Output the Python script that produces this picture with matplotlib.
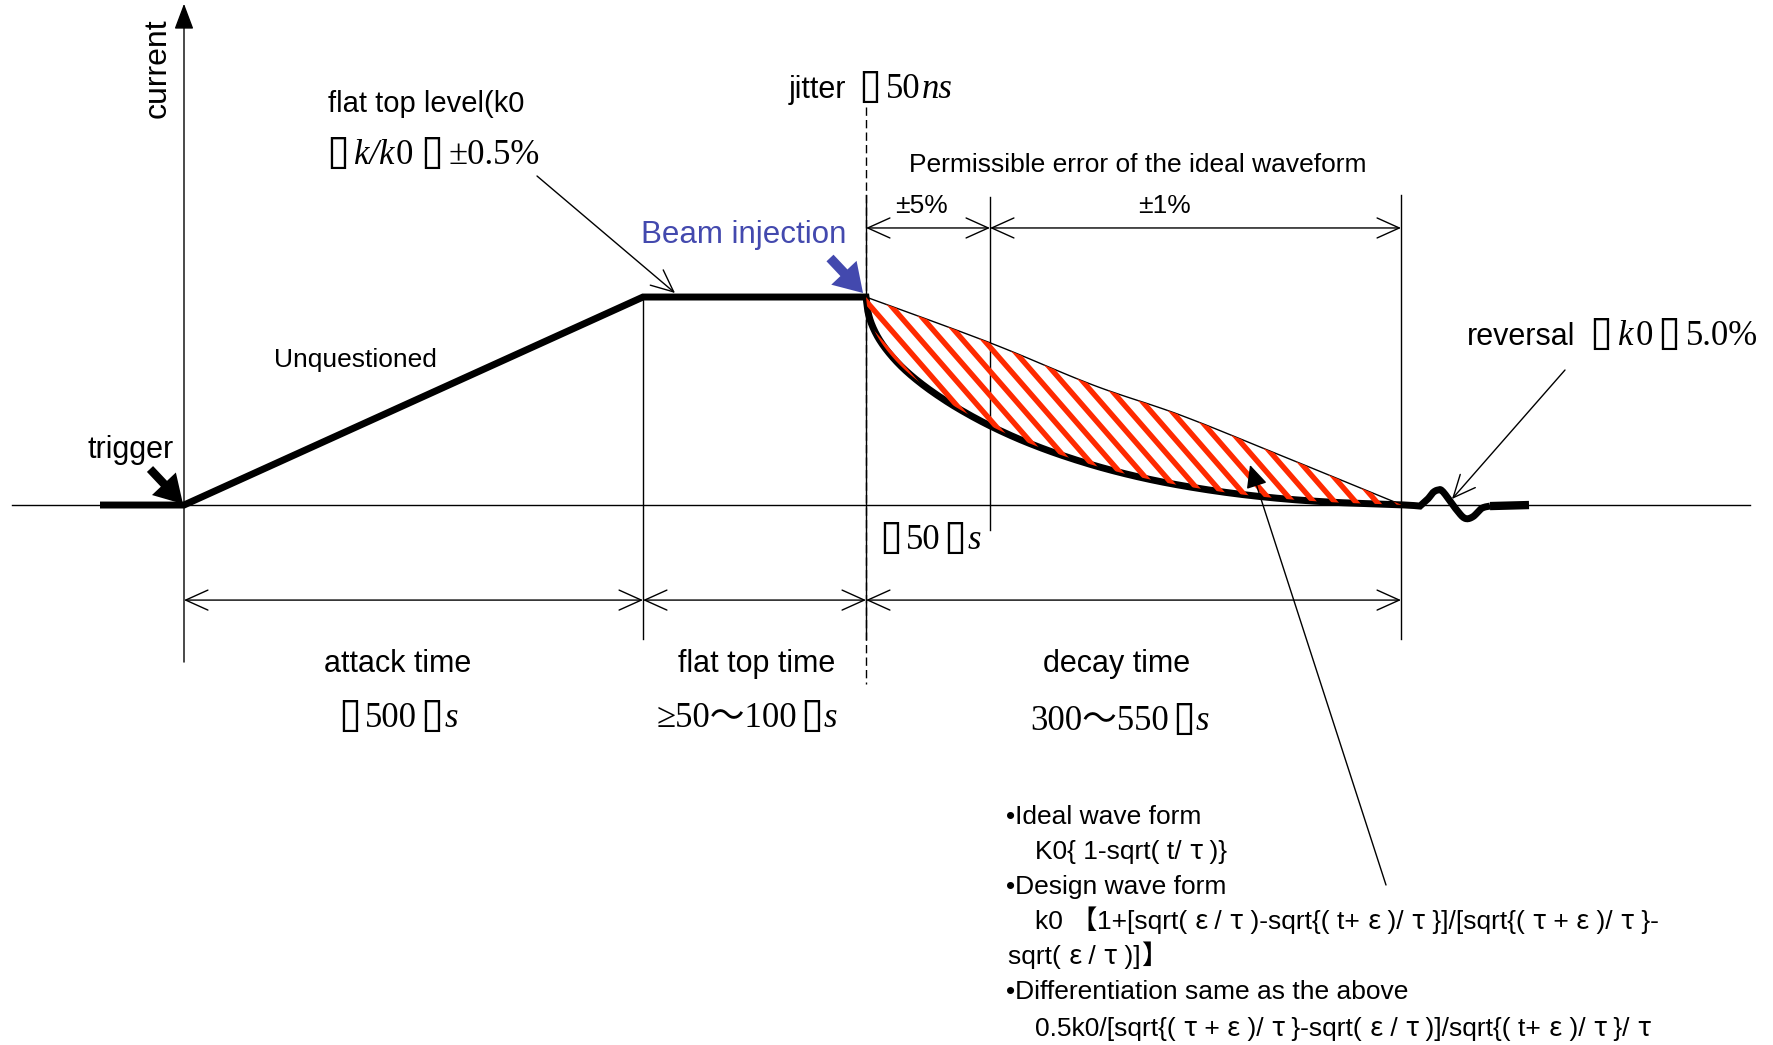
import matplotlib
matplotlib.use("Agg")
import matplotlib.pyplot as plt
import numpy as np
from matplotlib.patches import FancyArrowPatch

# ---------------- data (time in diagram units, current in units of k0) -------------
ramp_t = [-0.84, 0.0, 4.59, 6.82]
ramp_c = [0.0, 0.0, 1.0, 1.0]
decay_t = [6.82, 6.84, 6.88, 6.95, 7.05, 7.18, 7.34, 7.53, 7.76, 8.06, 8.41, 8.81,
           9.26, 9.76, 10.31, 10.86, 11.46, 12.17, 12.36]
decay_c = [1.0, 0.928, 0.865, 0.798, 0.731, 0.663, 0.596, 0.529, 0.459, 0.381, 0.305, 0.234,
           0.169, 0.113, 0.068, 0.036, 0.014, 0.001, -0.005]
ideal_t = [6.82, 8.06, 9.09, 9.96, 10.96, 12.18]
ideal_c = [1.0, 0.78, 0.577, 0.433, 0.24, 0.0]
reversal_t = [12.36, 12.44, 12.49, 12.54, 12.59, 12.727, 12.81, 12.89, 12.977, 13.06]
reversal_c = [-0.005, 0.03, 0.06, 0.072, 0.064, -0.024, -0.064, -0.056, -0.016, -0.005]
tail_t = [13.06, 13.45]
tail_c = [-0.005, 0.0]
# event times: trigger, flat-top start, beam injection, tolerance switch, decay end
t_trig, t_flat0, t_inj, t_switch, t_end = 0.0, 4.59, 6.82, 8.06, 12.17

period_labels = ["attack time", "flat top time", "decay time"]
text_block = ["\u2022Ideal wave form",
              "K0{ 1-sqrt( t/ \u03c4 )}",
              "\u2022Design wave form",
              "k0 \u30101+[sqrt( \u03b5 / \u03c4 )-sqrt{( t+ \u03b5 )/ \u03c4 }]/[sqrt{( \u03c4 + \u03b5 )/ \u03c4 }-",
              "sqrt( \u03b5 / \u03c4 )]\u3011",
              "\u2022Differentiation same as the above",
              "0.5k0/[sqrt{( \u03c4 + \u03b5 )/ \u03c4 }-sqrt( \u03b5 / \u03c4 )]/sqrt{( t+ \u03b5 )/ \u03c4 }/ \u03c4"]

# ---------------- figure ----------------
W, H = 1774, 1045
fig = plt.figure(figsize=(W / 100, H / 100), dpi=100)
ax = fig.add_axes([0, 0, 1, 1])
ax.set_xlim(-1.84, 15.90)
ax.set_ylim(-2.596, 2.428)
ax.axis("off")
axp = fig.add_axes([0, 0, 1, 1])
axp.set_xlim(0, W)
axp.set_ylim(H, 0)
axp.axis("off")

SANS = ["Liberation Sans", "Noto Sans CJK JP", "DejaVu Sans"]
SERIF = ["Liberation Serif", "Noto Sans CJK JP", "DejaVu Sans"]
CJK = ["Noto Sans CJK JP", "DejaVu Sans"]
BOX = ["DejaVu Sans"]
THIN = 1.0
THICK = 5.0
RED = "#ff2a00"
BLUE = "#4349ae"


def smooth(xs, ys, n=16):
    """Catmull-Rom curve through the read points."""
    P = np.column_stack([xs, ys]).astype(float)
    P = np.vstack([P[0], P, P[-1]])
    out = []
    tt = np.linspace(0, 1, n, endpoint=False)[:, None]
    for i in range(1, len(P) - 2):
        p0, p1, p2, p3 = P[i - 1], P[i], P[i + 1], P[i + 2]
        seg = 0.5 * (2 * p1 + (-p0 + p2) * tt + (2 * p0 - 5 * p1 + 4 * p2 - p3) * tt ** 2
                     + (-p0 + 3 * p1 - 3 * p2 + p3) * tt ** 3)
        out.append(seg)
    out.append(P[-2][None, :])
    out = np.vstack(out)
    return out[:, 0], out[:, 1]


# axes lines
ax.plot([-1.72, 15.66], [0, 0], color="k", lw=THIN, zorder=2)
ax.add_patch(FancyArrowPatch((t_trig, -0.755), (t_trig, 2.41),
                             arrowstyle="-|>,head_length=0.8,head_width=0.3",
                             mutation_scale=20, lw=THIN, color="k",
                             shrinkA=0, shrinkB=0, zorder=2))


def vline(t, c0, c1, **kw):
    ax.plot([t, t], [c0, c1], color="k", lw=THIN, zorder=2, **kw)


vline(t_flat0, 1.0, -0.644)
vline(t_inj, 1.49, -0.644)
vline(t_inj, 1.913, -0.861, dashes=(6, 3))
vline(t_switch, 1.48, -0.12)
vline(t_end, 1.49, -0.644)


def dim(t0, t1, c):
    ax.add_patch(FancyArrowPatch((t0, c), (t1, c),
                                 arrowstyle="<->,head_length=0.8,head_width=0.36",
                                 mutation_scale=20, lw=THIN, color="k",
                                 shrinkA=0, shrinkB=0, zorder=2))


dim_low, dim_high = -0.457, 1.332
dim(t_trig, t_flat0, dim_low)
dim(t_flat0, t_inj, dim_low)
dim(t_inj, t_end, dim_low)
dim(t_inj, t_switch, dim_high)
dim(t_switch, t_end, dim_high)

# smoothed curves
dt_s, dc_s = smooth(decay_t, decay_c)
it_s, ic_s = smooth(ideal_t, ideal_c)
rt_s, rc_s = smooth(reversal_t, reversal_c, n=10)

# hatched tolerance region
tg = np.linspace(t_inj, t_end, 500)
lower = np.interp(tg, dt_s, dc_s)
upper = np.interp(tg, it_s, ic_s)
poly = ax.fill_between(tg, lower, upper, facecolor="white", lw=0, zorder=1)
clip_path = poly.get_paths()[0]
slope = 1.15
for x0 in np.arange(866 - 300, 1420, 21.0):
    ln, = axp.plot([x0, x0 + 260 / slope], [270, 530], color=RED, lw=3.9,
                   solid_capstyle="butt", zorder=1.5)
    ln.set_clip_path(clip_path, ax.transData)

ax.plot(it_s, ic_s, color="k", lw=THIN, zorder=3)

# waveform
wave_t = np.concatenate([ramp_t, dt_s[1:], rt_s[1:]])
wave_c = np.concatenate([ramp_c, dc_s[1:], rc_s[1:]])
ax.plot(wave_t, wave_c, color="k", lw=THICK, solid_joinstyle="miter",
        solid_capstyle="butt", zorder=4)
ax.plot(tail_t, tail_c, color="k", lw=THICK + 1, solid_capstyle="butt", zorder=4)

# ---------------- annotation arrows (pixel overlay) ----------------
def open_arrow(p0, p1):
    axp.add_patch(FancyArrowPatch(p0, p1, arrowstyle="->,head_length=0.8,head_width=0.36",
                                  mutation_scale=20, lw=THIN, color="k",
                                  shrinkA=0, shrinkB=0, zorder=5))


open_arrow((537, 176), (675, 293))
open_arrow((1565, 370), (1452, 499))
axp.add_patch(FancyArrowPatch((1386, 885), (1250, 465),
                              arrowstyle="-|>,head_length=0.7,head_width=0.33",
                              mutation_scale=20, lw=THIN, color="k",
                              shrinkA=0, shrinkB=0, zorder=5))
axp.add_patch(FancyArrowPatch((150, 469), (183, 504),
                              arrowstyle="simple,head_length=0.72,head_width=0.85,tail_width=0.22",
                              mutation_scale=27.8, lw=0, color="k",
                              shrinkA=0, shrinkB=0, zorder=5))
axp.add_patch(FancyArrowPatch((830, 258), (863, 293),
                              arrowstyle="simple,head_length=0.72,head_width=0.9,tail_width=0.25",
                              mutation_scale=27.8, lw=0, color=BLUE,
                              shrinkA=0, shrinkB=0, zorder=5))

# ---------------- text ----------------
def txt(x, y, s, size, ha="left", va="center", family=SANS, **kw):
    axp.text(x, y, s, fontsize=size, ha=ha, va=va, family=family, **kw)


txt(158, 68, "current", 23, ha="center", rotation=90)
txt(328, 104, "flat top level(k0", 21)
txt(1138, 165, "Permissible error of the ideal waveform", 19, ha="center")
txt(922, 206, "\u00b15%", 19, ha="center")
txt(1165, 206, "\u00b11%", 19, ha="center")
txt(641, 235, "Beam injection", 22.5, color=BLUE)
txt(88, 450, "trigger", 22)
txt(274, 360, "Unquestioned", 19)
for label, xc in zip(period_labels, [398, 757, 1117]):
    txt(xc, 664, label, 22, ha="center")

renderer = fig.canvas.get_renderer()


def rich(x, y, parts, ha="left"):
    widths = []
    for s, fam, size, style, gap in parts:
        t = axp.text(0, 0, s, family=fam, fontsize=size, style=style)
        widths.append(t.get_window_extent(renderer).width + gap)
        t.remove()
    if ha == "center":
        x -= sum(widths) / 2
    for (s, fam, size, style, gap), w in zip(parts, widths):
        axp.text(x, y, s, family=fam, fontsize=size, style=style, ha="left", va="baseline")
        x += w


def split_greek(s):
    parts, cur = [], ""
    for ch in s:
        if ch in "\u03c4\u03b5\u3010\u3011":
            if cur:
                parts.append((cur, SANS))
                cur = ""
            parts.append((ch, CJK))
        else:
            cur += ch
    if cur:
        parts.append((cur, SANS))
    return parts


def rich_text(x, y, s, size):
    xcur = x
    for run, fam in split_greek(s):
        axp.text(xcur, y, run, family=fam, fontsize=size, ha="left", va="baseline")
        m = axp.text(0, 0, "|" + run + "|", family=fam, fontsize=size)
        b = axp.text(0, 0, "||", family=fam, fontsize=size)
        w = m.get_window_extent(renderer).width - b.get_window_extent(renderer).width
        m.remove()
        b.remove()
        xcur += w


line_x = [1006, 1035, 1006, 1035, 1008, 1006, 1035]
line_y = [824, 859, 894, 929, 964, 999, 1036]
for s, x, y in zip(text_block, line_x, line_y):
    rich_text(x, y, s, 19)

S = 25
SB = 30
BX = "\u25af"
rich(326, 164, [(BX, BOX, SB, "normal", 5), ("k/k", SERIF, S, "italic", 1),
                ("0", SERIF, S, "normal", 8), (BX, BOX, SB, "normal", 5),
                ("\u00b10.5%", SERIF, S, "normal", 0)])
rich(789, 98, [("jitter", SANS, 22, "normal", 12), (BX, BOX, SB, "normal", 5),
               ("50", SERIF, S, "normal", 1), ("ns", SERIF, S, "italic", 0)])
rich(879, 549, [(BX, BOX, SB, "normal", 4), ("50", SERIF, S, "normal", 3),
                (BX, BOX, SB, "normal", 1), ("s", SERIF, S, "italic", 0)])
rich(398, 727, [(BX, BOX, SB, "normal", 4), ("500", SERIF, S, "normal", 3),
                (BX, BOX, SB, "normal", 1), ("s", SERIF, S, "italic", 0)], ha="center")
rich(747, 727, [("\u226550\u301c100", SERIF, S, "normal", 3),
                (BX, BOX, SB, "normal", 1), ("s", SERIF, S, "italic", 0)], ha="center")
rich(1120, 730, [("300\u301c550", SERIF, S, "normal", 3),
                 (BX, BOX, SB, "normal", 1), ("s", SERIF, S, "italic", 0)], ha="center")
rich(1467, 345, [("reversal", SANS, 22, "normal", 14), (BX, BOX, SB, "normal", 6),
                 ("k", SERIF, S, "italic", 2), ("0", SERIF, S, "normal", 4),
                 (BX, BOX, SB, "normal", 6), ("5.0%", SERIF, S, "normal", 0)])

fig.savefig("out.png", dpi=100)
